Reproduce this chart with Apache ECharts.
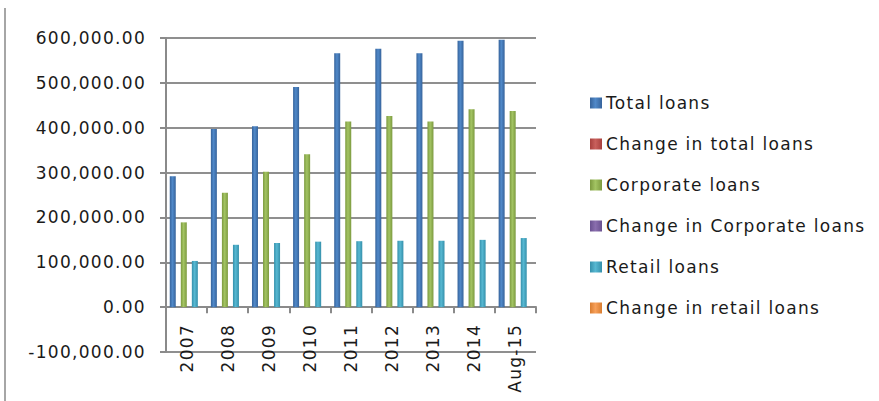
<!DOCTYPE html>
<html>
<head>
<meta charset="utf-8">
<script src="https://cdn.jsdelivr.net/npm/echarts@6/dist/echarts.min.js"></script>
<style>
  html, body { margin: 0; padding: 0; background: #fff; }
  #chart { width: 879px; height: 401px; }
  #chart svg text { letter-spacing: 1.3px; }
</style>
</head>
<body>
<div id="chart"></div>
<script>
// Loan portfolio by year
var categories = ['2007', '2008', '2009', '2010', '2011', '2012', '2013', '2014', 'Aug-15'];

var totalLoans      = [292000, 397000, 403000, 491000, 566000, 576000, 566000, 594000, 596000];
var changeTotal     = [null, 36.0, 1.5, 21.8, 15.3, 1.8, -1.7, 4.9, 0.3];
var corporateLoans  = [189000, 255000, 302000, 341000, 414000, 426000, 414000, 441000, 437000];
var changeCorporate = [null, 34.9, 18.4, 12.9, 21.4, 2.9, -2.8, 6.5, -0.9];
var retailLoans     = [103000, 139000, 143000, 146000, 147000, 148000, 148000, 150000, 154000];
var changeRetail    = [null, 35.0, 2.9, 2.1, 0.7, 0.7, 0.0, 1.4, 2.7];

var yTicks = { min: -100000, max: 600000, step: 100000 };

var seriesNames = ['Total loans', 'Change in total loans', 'Corporate loans',
                   'Change in Corporate loans', 'Retail loans', 'Change in retail loans'];

// shaded column fill: darker edges, lighter middle
function shade(edge, mid) {
  return new echarts.graphic.LinearGradient(0, 0, 1, 0, [
    { offset: 0, color: edge },
    { offset: 0.45, color: mid },
    { offset: 1, color: edge }
  ]);
}

var colors = [
  shade('#36639b', '#5089c9'),
  shade('#a8403d', '#c9605c'),
  shade('#7c9a3f', '#a3c463'),
  shade('#6a5190', '#8a6eae'),
  shade('#3590ab', '#57b8d2'),
  shade('#d97d30', '#f7a05a')
];
var legendColors = ['#4a7ebb', '#be4b48', '#98b954', '#7d60a0', '#46aac5', '#f69240'];

var seriesData = [totalLoans, changeTotal, corporateLoans, changeCorporate, retailLoans, changeRetail];

var FONT = 'DejaVu Sans';

var chart = echarts.init(document.getElementById('chart'), null, { renderer: 'svg' });

chart.setOption({
  animation: false,
  backgroundColor: '#ffffff',
  color: legendColors,
  grid: { left: 166, right: 343, top: 38, bottom: 49, containLabel: false, outerBoundsMode: 'none' },
  legend: {
    orient: 'vertical',
    left: 585,
    top: 88,
    itemWidth: 12,
    itemHeight: 11,
    itemGap: 21,
    icon: 'rect',
    textStyle: { fontFamily: FONT, fontSize: 17, color: '#1a1a1a', lineHeight: 20, padding: [0, 0, 0, -1] },
    data: seriesNames
  },
  xAxis: {
    type: 'category',
    data: categories,
    axisLine: { onZero: true, lineStyle: { color: '#8a8a8a', width: 2 } },
    axisTick: { show: true, inside: false, length: 6, lineStyle: { color: '#8a8a8a', width: 2 } },
    axisLabel: {
      rotate: 90,
      margin: -28,
      interval: 0,
      fontFamily: FONT,
      fontSize: 17,
      color: '#1a1a1a'
    },
    splitLine: { show: false }
  },
  yAxis: {
    type: 'value',
    min: yTicks.min,
    max: yTicks.max,
    interval: yTicks.step,
    axisLine: { show: true, lineStyle: { color: '#8a8a8a', width: 2 } },
    axisTick: { show: true, length: 6, lineStyle: { color: '#8a8a8a', width: 2 } },
    axisLabel: {
      margin: 20,
      fontFamily: FONT,
      fontSize: 17,
      color: '#1a1a1a',
      formatter: function (v) {
        return v.toLocaleString('en-US', { minimumFractionDigits: 2, maximumFractionDigits: 2 });
      }
    },
    splitLine: { show: true, lineStyle: { color: '#8f8f8f', width: 2 } }
  },
  graphic: [
    {
      type: 'line',
      shape: { x1: 5, y1: 8, x2: 5, y2: 401 },
      style: { stroke: '#a6a6a6', lineWidth: 2 }
    }
  ],
  series: seriesNames.map(function (name, i) {
    return {
      name: name,
      type: 'bar',
      data: seriesData[i],
      barWidth: 6,
      barGap: '-8%',
      barCategoryGap: 8,
      itemStyle: { color: colors[i] }
    };
  })
});
</script>
</body>
</html>
